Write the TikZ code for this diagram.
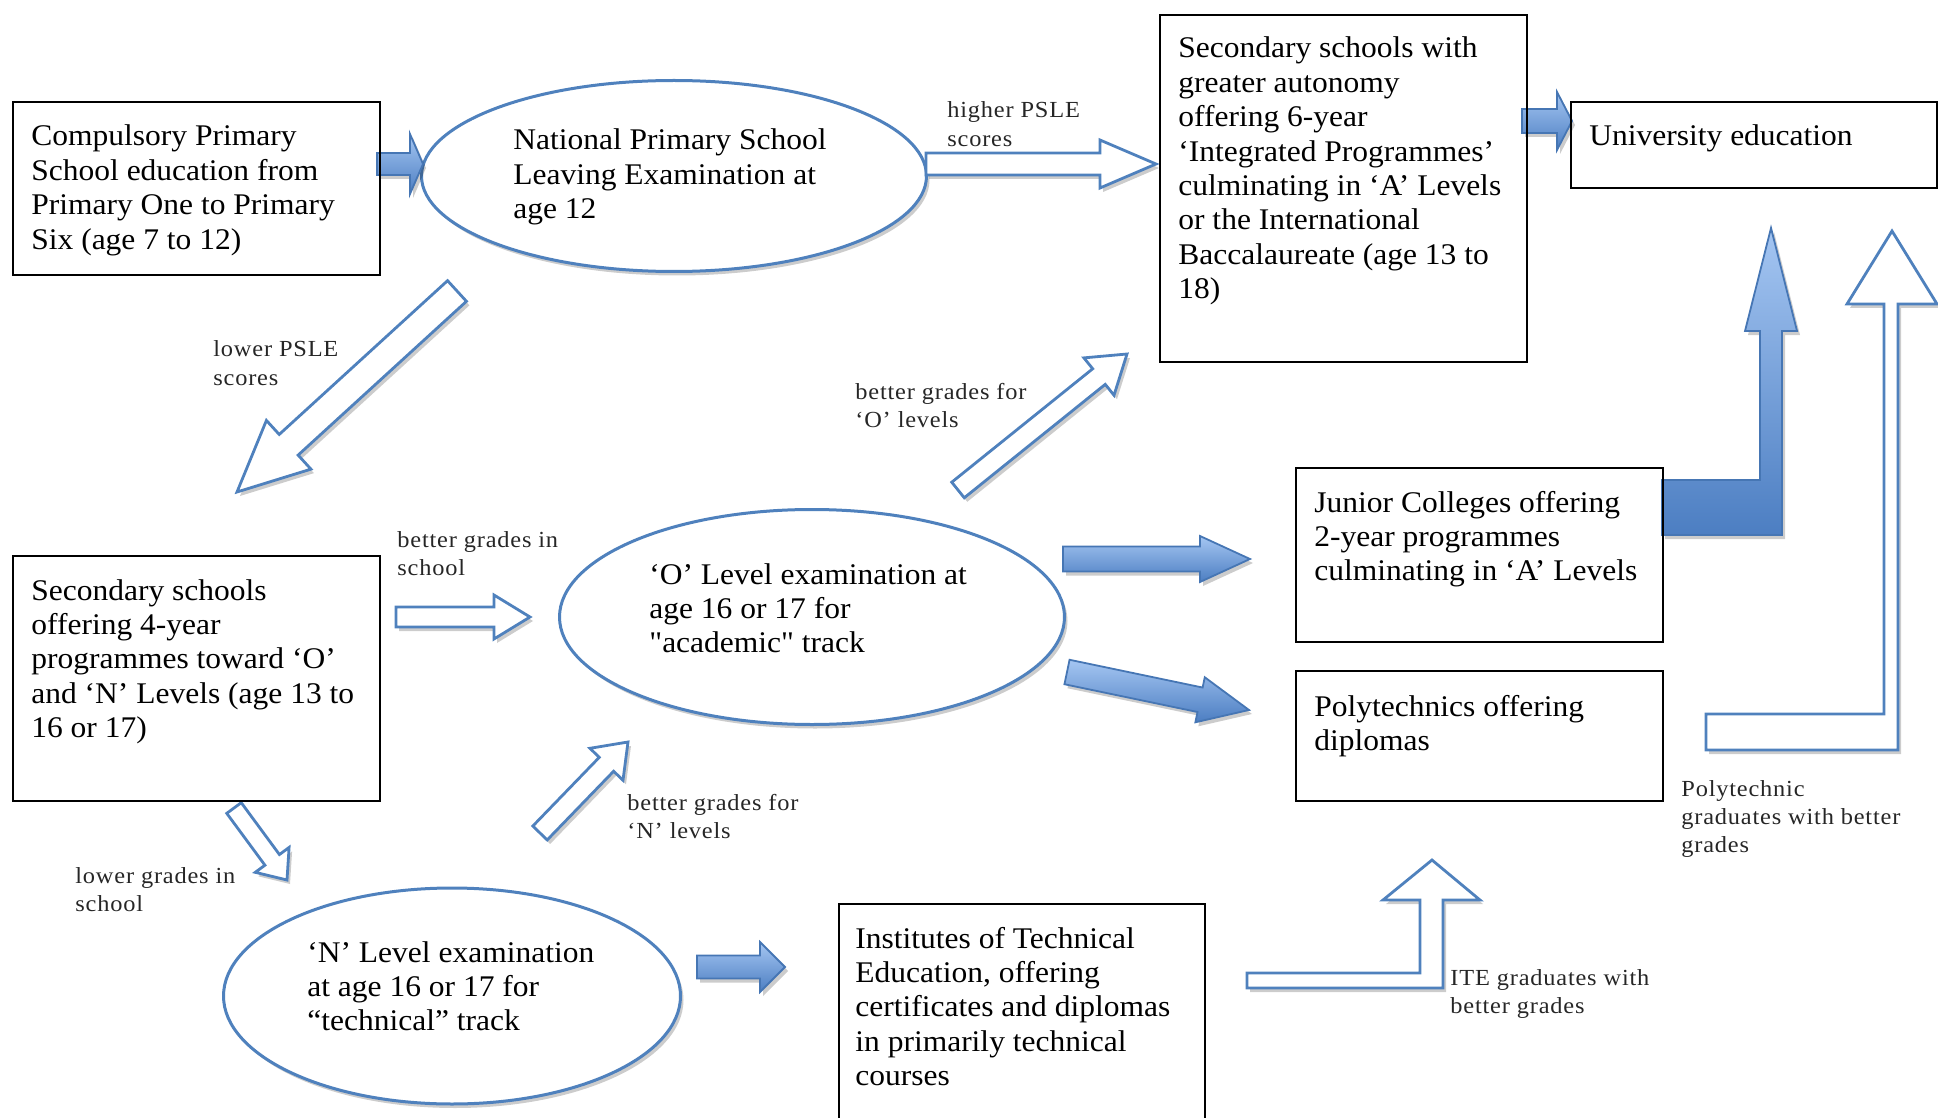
\documentclass[tikz,border=0pt]{standalone}
\usepackage{fontspec}
\setmainfont{Liberation Serif}
\newfontfamily\mainf[FakeStretch=1.05]{Liberation Serif}
\newfontfamily\labf[FakeStretch=1.06,LetterSpace=3.5]{Liberation Serif}
\usetikzlibrary{shapes.geometric,calc,shadows}
\definecolor{eblue}{RGB}{79,129,189}
\definecolor{ablue}{RGB}{70,118,180}
\definecolor{ltop}{RGB}{165,198,242}
\definecolor{lbot}{RGB}{76,126,194}
\newcommand\ml[1]{\begin{tabular}[t]{@{}l@{}}#1\end{tabular}}
% block arrow: #1 style, #2 tail, #3 tip, #4 shaft half width, #5 head half width, #6 head length
\newcommand\blockarrow[6]{%
  \coordinate (bab) at ($(#3)!#6!(#2)$);
  \path[#1] ($(#2)!#4!90:(#3)$) -- ($(bab)!#4!90:(#3)$) -- ($(bab)!#5!90:(#3)$)
    -- (#3) -- ($(bab)!#5!-90:(#3)$) -- ($(bab)!#4!-90:(#3)$) -- ($(#2)!#4!-90:(#3)$) -- cycle;
}
\tikzset{
  shd/.style={drop shadow={shadow xshift=1.5pt, shadow yshift=-2pt, opacity=0.2, fill=black}},
  boxst/.style={draw=black, line width=0.8pt, rectangle, inner sep=0pt, anchor=north west},
  ellst/.style={ellipse, draw=eblue, line width=1.5pt, fill=white, inner sep=0pt, shd},
  maintxt/.style={anchor=base west, inner sep=0pt, font=\mainf\fontsize{15}{17.2}\selectfont},
  labtxt/.style={anchor=base west, inner sep=0pt, font=\labf\fontsize{11.5}{14.2}\selectfont, text=black!85},
  openarr/.style={draw=eblue, line width=1.4pt, fill=white, line join=miter, shd},
  fillarr/.style={draw=ablue, line width=0.9pt, top color=ltop, bottom color=lbot, line join=miter, shd},
}
\begin{document}
\begin{tikzpicture}[x=0.5pt,y=-0.5pt]
\useasboundingbox (0,0) rectangle (1938,1118);
\begin{scope}
\clip (0,0) rectangle (1938,1118);
% ellipses
\node[ellst, minimum width=252.5pt, minimum height=95.5pt] (e1) at (674,176) {};
\node[ellst, minimum width=252.5pt, minimum height=107.5pt] (e2) at (812,617) {};
\node[ellst, minimum width=228.5pt, minimum height=108pt] (e3) at (452,996) {};
% arrow end points
\coordinate (a1s) at (377,164);  \coordinate (a1e) at (423,164);
\coordinate (a2s) at (926,164);  \coordinate (a2e) at (1156,164);
\coordinate (a3s) at (1522,121); \coordinate (a3e) at (1572,121);
\coordinate (a4s) at (457,291);  \coordinate (a4e) at (237,492);
\coordinate (a5s) at (396,617);  \coordinate (a5e) at (530,617);
\coordinate (a6s) at (958,490);  \coordinate (a6e) at (1127,354);
\coordinate (a7s) at (1063,559); \coordinate (a7e) at (1250,559);
\coordinate (a8s) at (1067,672); \coordinate (a8e) at (1249,710);
\coordinate (a9s) at (540,833);  \coordinate (a9e) at (628,742);
\coordinate (a10s) at (234,808); \coordinate (a10e) at (287,880);
\coordinate (a11s) at (697,967); \coordinate (a11e) at (785,967);
% straight block arrows
\blockarrow{fillarr}{a1s}{a1e}{5.5pt}{15pt}{6.5pt}
\blockarrow{openarr}{a2s}{a2e}{5.5pt}{12pt}{28pt}
\blockarrow{fillarr}{a3s}{a3e}{6pt}{14.5pt}{7.5pt}
\blockarrow{openarr}{a4s}{a4e}{7pt}{16.5pt}{35pt}
\blockarrow{openarr}{a5s}{a5e}{5pt}{11pt}{18pt}
\blockarrow{openarr}{a6s}{a6e}{5pt}{12pt}{18pt}
\blockarrow{fillarr}{a7s}{a7e}{6.25pt}{11.5pt}{25pt}
\blockarrow{fillarr}{a8s}{a8e}{6.25pt}{11.5pt}{25pt}
\blockarrow{openarr}{a9s}{a9e}{5pt}{11.5pt}{15.5pt}
\blockarrow{openarr}{a10s}{a10e}{4.5pt}{10.5pt}{12.5pt}
\blockarrow{fillarr}{a11s}{a11e}{5.75pt}{12.5pt}{12.5pt}
% bent arrows
\path[fillarr] (1662,480) -- (1760,480) -- (1760,331) -- (1745,331) -- (1771,228) -- (1797,331)
  -- (1782,331) -- (1782,535) -- (1662,535) -- cycle;
\path[openarr] (1706,714) -- (1884,714) -- (1884,304) -- (1847,304) -- (1892,231) -- (1937,304)
  -- (1898,304) -- (1898,750) -- (1706,750) -- cycle;
\path[openarr] (1247,973) -- (1420,973) -- (1420,900) -- (1383,900) -- (1432,860) -- (1480,900)
  -- (1443,900) -- (1443,988) -- (1247,988) -- cycle;
% boxes
\node[boxst, minimum width=183.5pt, minimum height=86.5pt] (b1) at (12,101) {};
\node[boxst, minimum width=183.5pt, minimum height=173.5pt] (b2) at (1159,14) {};
\node[boxst, minimum width=183pt, minimum height=43pt] (b3) at (1570,101) {};
\node[boxst, minimum width=183.5pt, minimum height=122.5pt] (b4) at (12,555) {};
\node[boxst, minimum width=183.5pt, minimum height=87pt] (b5) at (1295,467) {};
\node[boxst, minimum width=183.5pt, minimum height=65pt] (b6) at (1295,670) {};
\node[boxst, minimum width=183pt, minimum height=125pt] (b7) at (838,903) {};
% box and ellipse texts
\node[maintxt] (t1) at (31,146) {\ml{Compulsory Primary\\School education from\\Primary One to Primary\\Six (age 7 to 12)}};
\node[maintxt] (t2) at (1178,58) {\ml{Secondary schools with\\greater autonomy\\offering 6-year\\‘Integrated Programmes’\\culminating in ‘A’ Levels\\or the International\\Baccalaureate (age 13 to\\18)}};
\node[maintxt] (t3) at (1589,146) {\ml{University education}};
\node[maintxt] (t4) at (31,600) {\ml{Secondary schools\\offering 4-year\\programmes toward ‘O’\\and ‘N’ Levels (age 13 to\\16 or 17)}};
\node[maintxt] (t5) at (1314,512) {\ml{Junior Colleges offering\\2-year programmes\\culminating in ‘A’ Levels}};
\node[maintxt] (t6) at (1314,716) {\ml{Polytechnics offering\\diplomas}};
\node[maintxt] (t7) at (855,948) {\ml{Institutes of Technical\\Education, offering\\certificates and diplomas\\in primarily technical\\courses}};
\node[maintxt] (te1) at (513,150) {\ml{National Primary School\\Leaving Examination at\\age 12}};
\node[maintxt] (te2) at (649,584) {\ml{‘O’ Level examination at\\age 16 or 17 for\\"academic" track}};
\node[maintxt] (te3) at (307,962) {\ml{‘N’ Level examination\\at age 16 or 17 for\\“technical” track}};
% labels
\node[labtxt] (l1) at (947,118) {\ml{higher PSLE\\scores}};
\node[labtxt] (l2) at (213,357) {\ml{lower PSLE\\scores}};
\node[labtxt] (l3) at (397,547) {\ml{better grades in\\school}};
\node[labtxt] (l4) at (855,399) {\ml{better grades for\\‘O’ levels}};
\node[labtxt] (l5) at (627,810) {\ml{better grades for\\‘N’ levels}};
\node[labtxt] (l6) at (75,883) {\ml{lower grades in\\school}};
\node[labtxt] (l7) at (1450,985) {\ml{ITE graduates with\\better grades}};
\node[labtxt] (l8) at (1681,796) {\ml{Polytechnic\\graduates with better\\grades}};
\end{scope}
\end{tikzpicture}
\end{document}
